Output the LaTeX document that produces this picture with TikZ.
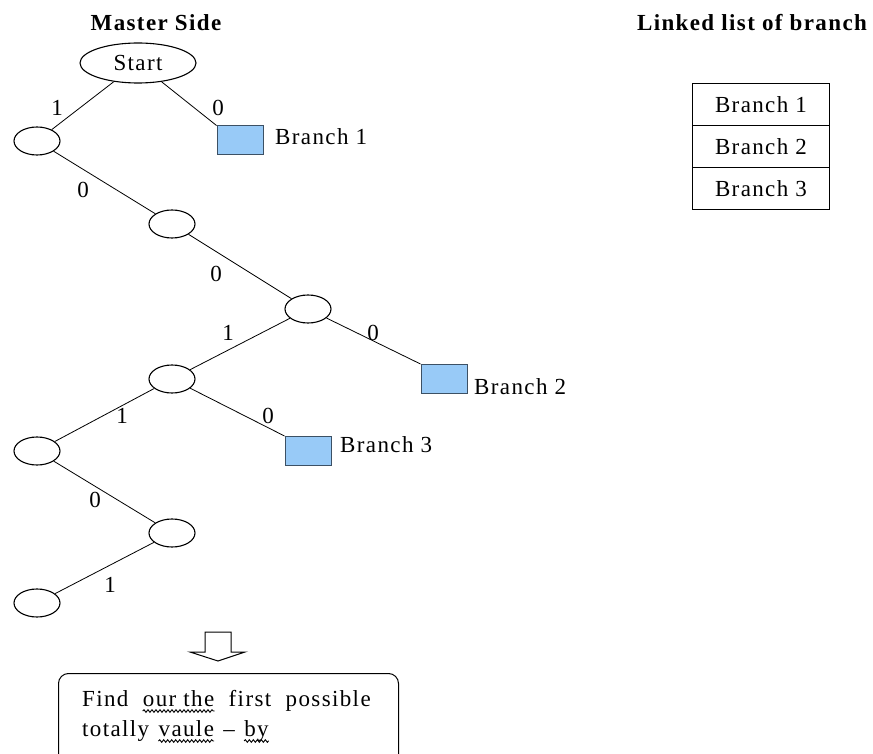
\documentclass[tikz,border=0pt]{standalone}
\usepackage{fontspec}
\setmainfont{Liberation Serif}[LetterSpace=6]
\usetikzlibrary{shapes.geometric,decorations.pathmorphing}
\definecolor{leafblue}{RGB}{152,202,247}
\definecolor{leafedge}{RGB}{60,80,100}
\begin{document}
\begin{tikzpicture}[x=1pt,y=-1pt,
  txt/.style={font=\fontsize{23}{30}\selectfont, inner sep=0},
  head/.style={font=\fontsize{23}{28}\selectfont\bfseries, inner sep=0},
  state/.style={ellipse, draw, line width=1.1pt, minimum width=46pt,
                minimum height=28pt, inner sep=0, font=\fontsize{23}{28}\selectfont},
  leaf/.style={rectangle, draw=leafedge, fill=leafblue, line width=1pt,
               minimum width=46pt, minimum height=29pt, inner sep=0},
  link/.style={line width=0.8pt},
  lbl/.style={txt},
  cell/.style={rectangle, draw, line width=1pt, minimum width=137pt,
               minimum height=42pt, txt},
  note/.style={rectangle, draw, line width=1pt, rounded corners=10pt,
               minimum width=340pt, minimum height=100pt, inner sep=0},
  word/.style={txt, anchor=base west},
  squiggle/.style={line width=0.9pt, decorate,
                   decoration={snake, amplitude=1.3pt, segment length=4pt}}]
\useasboundingbox (0,0) rectangle (873,754);
\clip (0,0) rectangle (873,754);

% headings
\node[head] (mhead) at (156,23) {Master Side};
\node[head] (lhead) at (752,23) {Linked list of branch};

% search tree on the master side
\node[state, minimum width=116pt, minimum height=40pt] (start) at (138,63) {Start};
\node[state] (n1) at (37,141) {};
\node[state] (n2) at (172,224) {};
\node[state] (n3) at (308,309) {};
\node[state] (n4) at (172,379) {};
\node[state] (n5) at (37,451) {};
\node[state] (n6) at (172,533) {};
\node[state] (n7) at (37,603) {};

\node[leaf] (b1) at (240,140.5) {};
\node[leaf] (b2) at (444,379) {};
\node[leaf] (b3) at (308,451) {};

\node[txt, anchor=west] (t1) at (275,137) {Branch 1};
\node[txt, anchor=west] (t2) at (474,387) {Branch 2};
\node[txt, anchor=west] (t3) at (340,445) {Branch 3};

\draw[link] (start) -- (n1);
\draw[link] (start) -- (b1.north west);
\draw[link] (n1) -- (n2);
\draw[link] (n2) -- (n3);
\draw[link] (n3) -- (n4);
\draw[link] (n3) -- (b2.north west);
\draw[link] (n4) -- (n5);
\draw[link] (n4) -- (b3.north west);
\draw[link] (n5) -- (n6);
\draw[link] (n6) -- (n7);

% bit labels on the tree edges
\node[lbl] (e1) at (57,108) {1};
\node[lbl] (e2) at (218,108) {0};
\node[lbl] (e3) at (83,190) {0};
\node[lbl] (e4) at (216,274) {0};
\node[lbl] (e5) at (228,333) {1};
\node[lbl] (e6) at (373,333) {0};
\node[lbl] (e7) at (122,416) {1};
\node[lbl] (e8) at (268,416) {0};
\node[lbl] (e9) at (95,500) {0};
\node[lbl] (e10) at (110,585) {1};

% linked list of branches
\node[cell] (c1) at (761,105) {Branch 1};
\node[cell] (c2) at (761,147) {Branch 2};
\node[cell] (c3) at (761,189) {Branch 3};

% hollow down arrow
\coordinate (arr) at (218,632);
\draw[line width=1pt, fill=white]
  ([xshift=-13pt]arr) -- ++(0,20) -- ++(-15,0) -- (218,661) -- (245,652)
  -- ++(-14,0) -- ([xshift=13pt]arr) -- cycle;

% result box with its two lines of text
\node[note, anchor=north west] (res) at (58,673) {};
\node[word] (w1) at (82,706) {Find};
\node[word] (w2) at ([xshift=14pt]w1.base east) {our the};
\node[word] (w3) at ([xshift=14pt]w2.base east) {first};
\node[word] (w4) at ([xshift=14pt]w3.base east) {possible};
\node[word] (v1) at (82,736) {totally};
\node[word] (v2) at ([xshift=9pt]v1.base east) {vaule};
\node[word] (v3) at ([xshift=9pt]v2.base east) {--};
\node[word] (v4) at ([xshift=9pt]v3.base east) {by};
\draw[squiggle] ([yshift=-5pt]w2.base west) -- ([yshift=-5pt]w2.base east);
\draw[squiggle] ([yshift=-5pt]v2.base west) -- ([yshift=-5pt]v2.base east);
\draw[squiggle] ([yshift=-5pt]v4.base west) -- ([yshift=-5pt]v4.base east);
\end{tikzpicture}
\end{document}
